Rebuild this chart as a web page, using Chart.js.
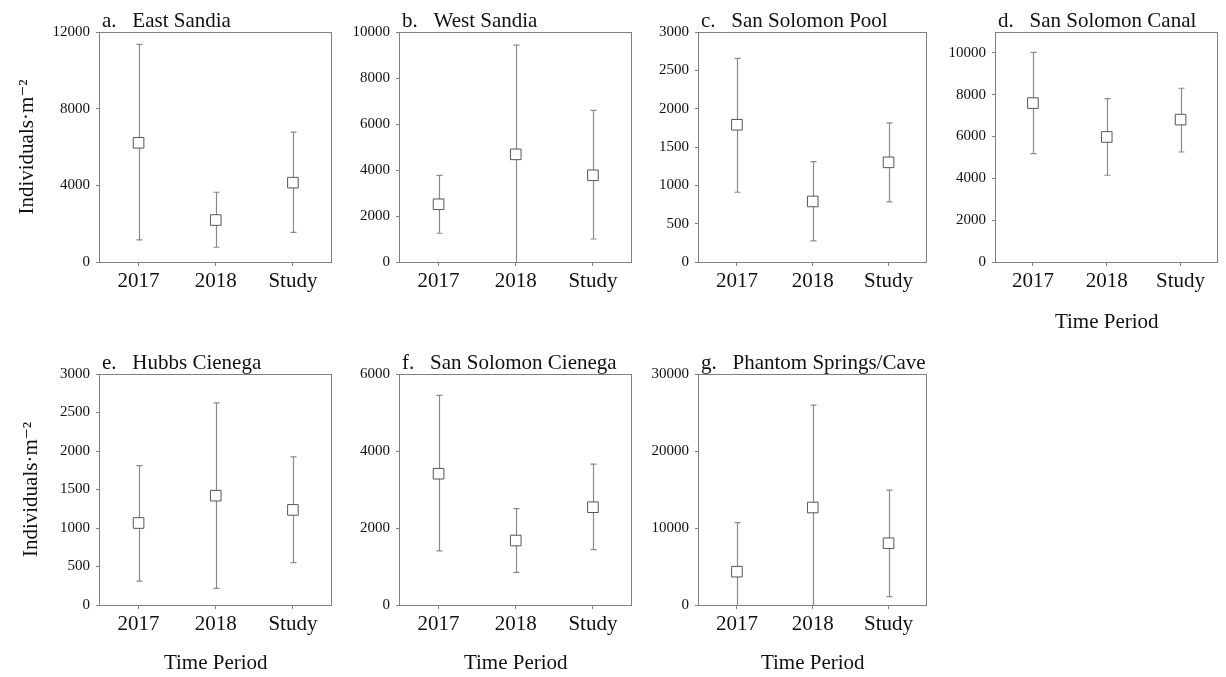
<!DOCTYPE html>
<html>
<head>
<meta charset="utf-8">
<title>Density by time period</title>
<script src="https://cdn.jsdelivr.net/npm/chart.js@4.4.1/dist/chart.umd.min.js"></script>
<style>
  html, body { margin: 0; padding: 0; background: #fff; }
  #wrap { position: relative; width: 1226px; height: 677px; overflow: hidden; }
  canvas { position: absolute; }
</style>
</head>
<body>
<div id="wrap"></div>
<script>
const periods = ["2017", "2018", "Study"];

// mean, lower and upper whisker per period
const eastSandiaMean = [6220, 2190, 4140];
const eastSandiaLow = [1150, 770, 1550];
const eastSandiaHigh = [11350, 3640, 6780];
const eastSandiaTicks = [0, 4000, 8000, 12000];

const westSandiaMean = [2510, 4680, 3770];
const westSandiaLow = [1250, 0, 1000];
const westSandiaHigh = [3770, 9430, 6590];
const westSandiaTicks = [0, 2000, 4000, 6000, 8000, 10000];

const poolMean = [1790, 790, 1300];
const poolLow = [910, 275, 785];
const poolHigh = [2655, 1310, 1815];
const poolTicks = [0, 500, 1000, 1500, 2000, 2500, 3000];

const canalMean = [7600, 5980, 6810];
const canalLow = [5180, 4150, 5260];
const canalHigh = [10030, 7810, 8310];
const canalTicks = [0, 2000, 4000, 6000, 8000, 10000];

const hubbsMean = [1065, 1420, 1235];
const hubbsLow = [310, 215, 550];
const hubbsHigh = [1810, 2625, 1925];
const hubbsTicks = [0, 500, 1000, 1500, 2000, 2500, 3000];

const cienegaMean = [3410, 1675, 2540];
const cienegaLow = [1405, 850, 1440];
const cienegaHigh = [5445, 2505, 3660];
const cienegaTicks = [0, 2000, 4000, 6000];

const phantomMean = [4330, 12660, 8020];
const phantomLow = [0, 0, 1080];
const phantomHigh = [10710, 25970, 14910];
const phantomTicks = [0, 10000, 20000, 30000];

const yTitle = "Individuals\u00b7m\u207b\u00b2";
const xTitle = "Time Period";
const SERIF = "'Liberation Serif', 'Times New Roman', 'DejaVu Serif', serif";

Chart.defaults.font.family = SERIF;
Chart.defaults.color = "#111";

const AXIS = "#808080";

const whiskerPlugin = {
  id: "whiskers",
  beforeDatasetsDraw(chart, _args, opts) {
    if (!opts || !opts.low) return;
    const { ctx, chartArea, scales } = chart;
    ctx.save();
    ctx.beginPath();
    ctx.rect(chartArea.left, chartArea.top, chartArea.right - chartArea.left, chartArea.bottom - chartArea.top);
    ctx.clip();
    ctx.strokeStyle = "#8a8a8a";
    ctx.lineWidth = 1.2;
    for (let i = 0; i < opts.low.length; i++) {
      const px = Math.round(scales.x.getPixelForValue(i)) + 0.5;
      const top = scales.y.getPixelForValue(opts.high[i]);
      const bot = scales.y.getPixelForValue(opts.low[i]);
      ctx.beginPath();
      ctx.moveTo(px, top);
      ctx.lineTo(px, bot);
      ctx.moveTo(px - 3, top);
      ctx.lineTo(px + 3, top);
      if (opts.low[i] > 0) {
        ctx.moveTo(px - 3, bot);
        ctx.lineTo(px + 3, bot);
      }
      ctx.stroke();
    }
    ctx.restore();
  },
};

const framePlugin = {
  id: "frame",
  afterDraw(chart) {
    const { ctx, chartArea } = chart;
    ctx.save();
    ctx.strokeStyle = AXIS;
    ctx.lineWidth = 1;
    const l = Math.round(chartArea.left) - 0.5;
    const t = Math.round(chartArea.top) + 0.5;
    const r = Math.round(chartArea.right) - 0.5;
    const b = Math.round(chartArea.bottom) + 0.5;
    ctx.strokeRect(l, t, r - l, b - t);
    ctx.restore();
  },
};

const panelTitlePlugin = {
  id: "panelTitle",
  afterDraw(chart, _args, opts) {
    if (!opts || !opts.text) return;
    const { ctx, chartArea } = chart;
    ctx.save();
    ctx.fillStyle = "#111";
    ctx.font = "21px " + SERIF;
    ctx.textAlign = "left";
    ctx.textBaseline = "alphabetic";
    ctx.fillText(opts.text, chartArea.left + 2, chartArea.top - 5);
    ctx.restore();
  },
};

Chart.register(whiskerPlugin, framePlugin, panelTitlePlugin);

const panels = [
  { title: "a.   East Sandia", mean: eastSandiaMean, low: eastSandiaLow, high: eastSandiaHigh,
    yMax: 12000, yTicks: eastSandiaTicks, yTitle: true, yTitlePad: 15, xTitle: false,
    box: [0, 0, 340, 340], area: [100, 32, 332, 262] },
  { title: "b.   West Sandia", mean: westSandiaMean, low: westSandiaLow, high: westSandiaHigh,
    yMax: 10000, yTicks: westSandiaTicks, yTitle: false, xTitle: false,
    box: [340, 0, 300, 340], area: [60, 32, 292, 262] },
  { title: "c.   San Solomon Pool", mean: poolMean, low: poolLow, high: poolHigh,
    yMax: 3000, yTicks: poolTicks, yTitle: false, xTitle: false,
    box: [640, 0, 295, 340], area: [59, 32, 289, 262] },
  { title: "d.   San Solomon Canal", mean: canalMean, low: canalLow, high: canalHigh,
    yMax: 11000, yTicks: canalTicks, yTitle: false, xTitle: true,
    box: [935, 0, 291, 340], area: [61, 32, 290, 262] },
  { title: "e.   Hubbs Cienega", mean: hubbsMean, low: hubbsLow, high: hubbsHigh,
    yMax: 3000, yTicks: hubbsTicks, yTitle: true, yTitlePad: 19, xTitle: true,
    box: [0, 340, 340, 337], area: [100, 34, 332, 265] },
  { title: "f.   San Solomon Cienega", mean: cienegaMean, low: cienegaLow, high: cienegaHigh,
    yMax: 6000, yTicks: cienegaTicks, yTitle: false, xTitle: true,
    box: [340, 340, 300, 337], area: [60, 34, 292, 265] },
  { title: "g.   Phantom Springs/Cave", mean: phantomMean, low: phantomLow, high: phantomHigh,
    yMax: 30000, yTicks: phantomTicks, yTitle: false, xTitle: true,
    box: [640, 340, 295, 337], area: [59, 34, 289, 265] },
];

const wrap = document.getElementById("wrap");

function makePanel(p) {
  const [bx, by, bw, bh] = p.box;
  const [al, at, ar, ab] = p.area;
  const canvas = document.createElement("canvas");
  canvas.width = bw;
  canvas.height = bh;
  canvas.style.left = bx + "px";
  canvas.style.top = by + "px";
  canvas.style.width = bw + "px";
  canvas.style.height = bh + "px";
  wrap.appendChild(canvas);

  const xH = p.xTitle ? (by === 0 ? 72.6 : 71.1) : 40;
  const yW = al;

  new Chart(canvas.getContext("2d"), {
    type: "line",
    data: {
      labels: periods,
      datasets: [
        {
          data: p.mean,
          showLine: false,
          pointStyle: "rect",
          pointRadius: 7.5,
          pointHoverRadius: 7.5,
          pointBorderColor: "#555",
          pointBackgroundColor: "#fff",
          pointBorderWidth: 1,
        },
      ],
    },
    options: {
      responsive: false,
      devicePixelRatio: 1,
      animation: false,
      events: [],
      layout: {
        padding: { left: 0, top: at, right: bw - ar, bottom: bh - ab - xH },
      },
      plugins: {
        legend: { display: false },
        tooltip: { enabled: false },
        whiskers: { low: p.low, high: p.high },
        panelTitle: { text: p.title },
      },
      scales: {
        x: {
          type: "category",
          offset: true,
          afterFit(scale) { scale.height = xH; },
          border: { display: false },
          grid: { display: true, drawOnChartArea: false, drawTicks: true, tickLength: 4, color: AXIS },
          ticks: { padding: 3, color: "#111", font: { size: 21 }, maxRotation: 0 },
          title: {
            display: p.xTitle,
            text: xTitle,
            color: "#111",
            font: { size: 21 },
            padding: { top: 0, bottom: 0 },
          },
        },
        y: {
          type: "linear",
          min: 0,
          max: p.yMax,
          afterFit(scale) { scale.width = yW; },
          afterBuildTicks(scale) {
            scale.ticks = p.yTicks.map((v) => ({ value: v }));
          },
          border: { display: false },
          grid: { display: true, drawOnChartArea: false, drawTicks: true, tickLength: 4, color: AXIS },
          ticks: {
            padding: 6,
            color: "#111",
            font: { size: 15 },
            callback(value) { return String(value); },
          },
          title: {
            display: p.yTitle,
            text: yTitle,
            color: "#111",
            font: { size: 21 },
            padding: { top: p.yTitlePad || 0, bottom: 0 },
          },
        },
      },
    },
  });
}

panels.forEach(makePanel);
</script>
</body>
</html>
